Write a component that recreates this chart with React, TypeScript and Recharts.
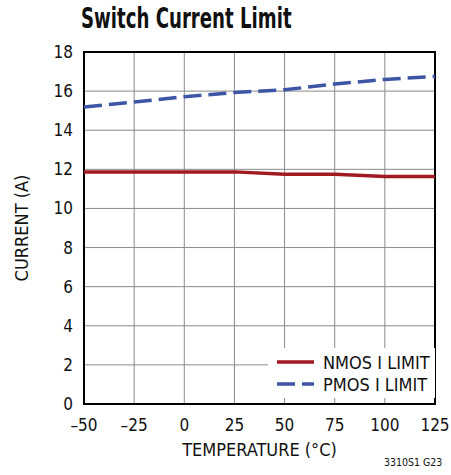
import { LineChart, Line, XAxis, YAxis, CartesianGrid, ReferenceArea } from "recharts";

const temps = [-50, -25, 0, 25, 50, 75, 100, 125];
const nmos = [11.87, 11.87, 11.87, 11.87, 11.75, 11.75, 11.63, 11.63];
const pmos = [15.19, 15.44, 15.71, 15.93, 16.07, 16.36, 16.6, 16.75];
const xTicks = [-50, -25, 0, 25, 50, 75, 100, 125];
const yTicks = [0, 2, 4, 6, 8, 10, 12, 14, 16, 18];

const series = [
  { key: "nmos", name: "NMOS I LIMIT", color: "#A11A22", dash: undefined as string | undefined },
  { key: "pmos", name: "PMOS I LIMIT", color: "#3C55A5", dash: "18 7" },
];

const data = temps.map((t, i) => ({ t, nmos: nmos[i], pmos: pmos[i] }));

const FONT = "'DejaVu Sans', sans-serif";
const tickStyle = { fontSize: 17, fill: "#111", fontFamily: FONT, fontStretch: "condensed" };

function LegendBox() {
  return (
    <div style={{ position: "absolute", left: 268, top: 348, width: 167, height: 50, background: "#fff", paddingTop: 3, boxSizing: "border-box" }}>
      {series.map((s) => (
        <div key={s.key} style={{ display: "flex", alignItems: "center", height: 22, fontFamily: FONT, fontStretch: "condensed", fontSize: 18, color: "#111", whiteSpace: "nowrap" }}>
          <svg width={46} height={10} style={{ marginLeft: 9 }}>
            <line x1={0} y1={5} x2={37} y2={5} stroke={s.color} strokeWidth={3.5} strokeDasharray={s.dash} />
          </svg>
          <span>{s.name}</span>
        </div>
      ))}
    </div>
  );
}

export default function App() {
  return (
    <div style={{ position: "absolute", left: 0, top: 0, width: 451, height: 475, background: "#fff" }}>
      <div style={{ position: "absolute", left: 81, top: 2, fontFamily: FONT, fontStretch: "condensed", fontWeight: 700, fontSize: 28, color: "#111", whiteSpace: "nowrap", transform: "scaleX(0.72)", transformOrigin: "left top" }}>
        Switch Current Limit
      </div>
      <div style={{ position: "absolute", left: 384, top: 456, fontFamily: FONT, fontStretch: "condensed", fontSize: 10.5, color: "#111" }}>3310S1 G23</div>
      <LineChart width={451} height={475} data={data} margin={{ top: 52, right: 16, bottom: 29, left: 40 }}>
        <CartesianGrid stroke="#8a8a8a" strokeWidth={1} />
        <XAxis
          dataKey="t"
          type="number"
          domain={[-50, 125]}
          ticks={xTicks}
          tickFormatter={(v: number) => (v < 0 ? "\u2013" + Math.abs(v) : String(v))}
          tick={tickStyle}
          tickLine={false}
          axisLine={false}
          height={42}
          tickMargin={9}
          label={{ value: "TEMPERATURE (°C)", position: "insideBottom", offset: -10, style: { ...tickStyle, fontSize: 18 } }}
        />
        <YAxis
          type="number"
          domain={[0, 18]}
          ticks={yTicks}
          tick={tickStyle}
          tickLine={false}
          axisLine={false}
          width={44}
          tickMargin={5}
          interval={0}
          label={{ value: "CURRENT (A)", angle: -90, position: "insideLeft", offset: -18, style: { ...tickStyle, fontSize: 18, textAnchor: "middle" } }}
        />
        <ReferenceArea x1={-50} x2={125} y1={0} y2={18} fill="none" stroke="#000" strokeWidth={2} ifOverflow="visible" />
        {series.map((s) => (
          <Line
            key={s.key}
            dataKey={s.key}
            name={s.name}
            stroke={s.color}
            strokeWidth={3.5}
            strokeDasharray={s.dash}
            dot={false}
            type="linear"
            isAnimationActive={false}
          />
        ))}
      </LineChart>
      <LegendBox />
    </div>
  );
}
